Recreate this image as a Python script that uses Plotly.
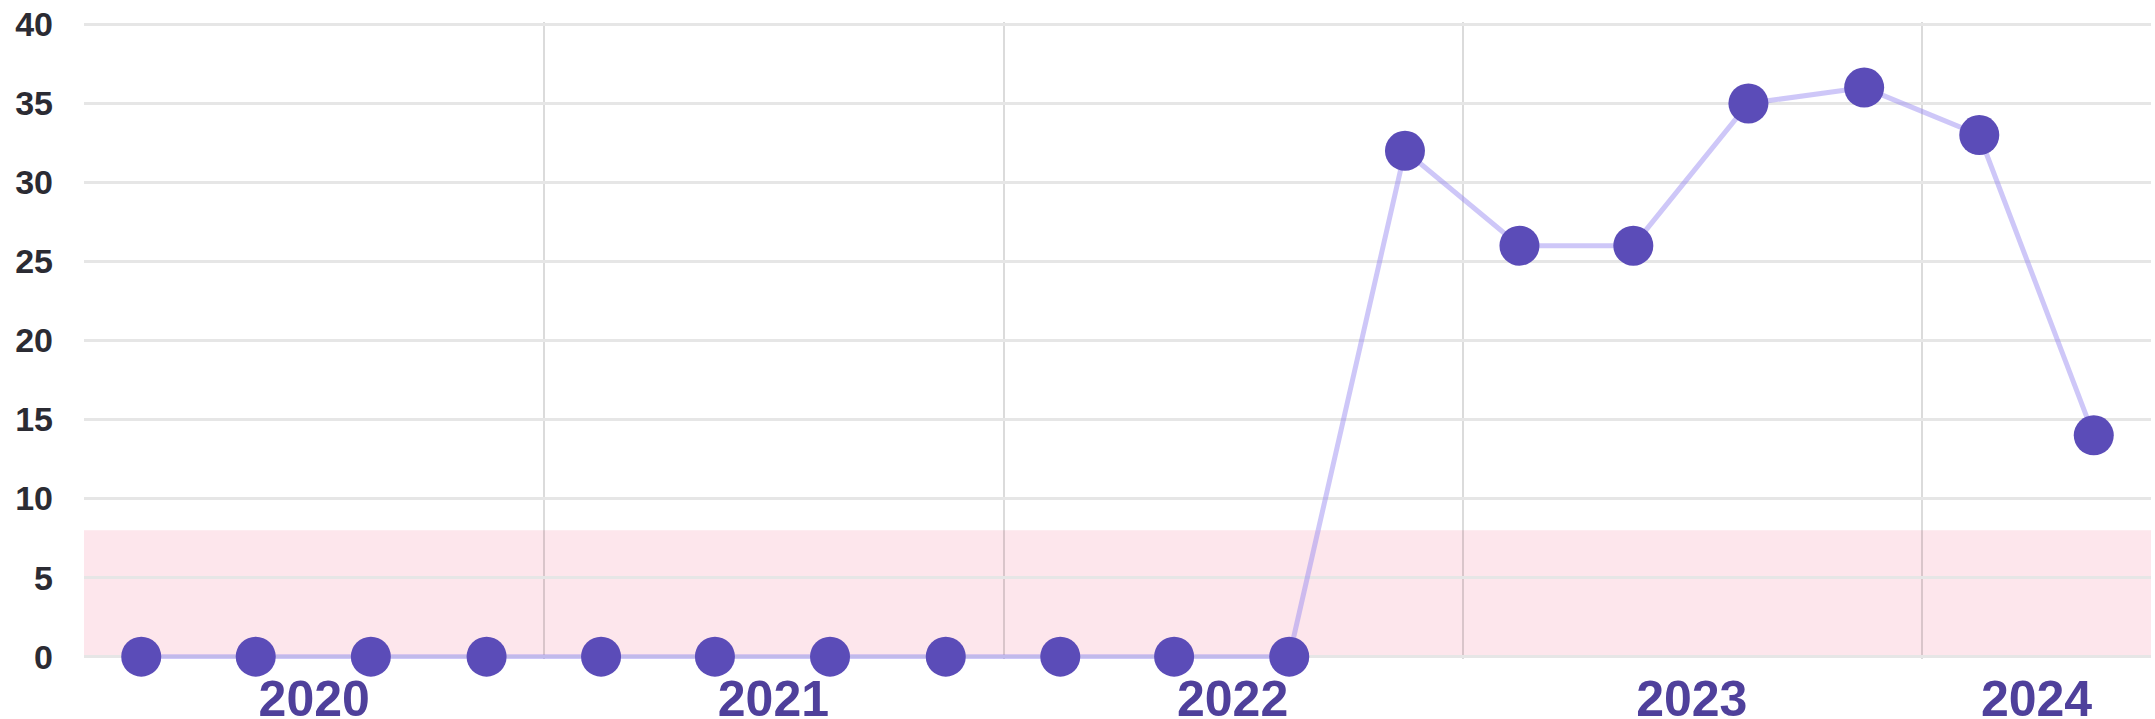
import plotly.graph_objects as go

# Quarterly data (quarter start dates; points drawn at mid-quarter)
quarters = [
    "2020-01-01", "2020-04-01", "2020-07-01", "2020-10-01",
    "2021-01-01", "2021-04-01", "2021-07-01", "2021-10-01",
    "2022-01-01", "2022-04-01", "2022-07-01", "2022-10-01",
    "2023-01-01", "2023-04-01", "2023-07-01", "2023-10-01",
    "2024-01-01", "2024-04-01",
]
values = [0, 0, 0, 0, 0, 0, 0, 0, 0, 0, 0, 32, 26, 26, 35, 36, 33, 14]

# Year labels, centred on the visible part of each year
year_label_pos = ["2020-07-02", "2021-07-02", "2022-07-02", "2023-07-02", "2024-04-01"]
year_labels = ["2020", "2021", "2022", "2023", "2024"]

x_range = ["2020-01-01", "2024-07-01"]
y_range = [-0.15, 40.15]
band = [0, 8]

fig = go.Figure()
fig.add_trace(go.Scatter(
    x=quarters, y=values,
    xperiod="M3", xperiodalignment="middle",
    mode="lines+markers",
    line=dict(color="rgba(150,135,240,0.47)", width=5),
    marker=dict(color="#5b4cb8", size=40),
    cliponaxis=False,
    showlegend=False,
))

fig.add_shape(type="rect", xref="paper", yref="y", x0=0, x1=1,
              y0=band[0], y1=band[1], fillcolor="rgba(240,80,120,0.14)",
              line=dict(width=0), layer="between")

fig.update_layout(
    width=2155, height=719,
    margin=dict(l=84, r=4, t=22, b=60),
    plot_bgcolor="white", paper_bgcolor="white",
    xaxis=dict(
        type="date", range=x_range, automargin=False,
        tickmode="array", tickvals=year_label_pos, ticktext=year_labels,
        showgrid=False, zeroline=False, showline=False, ticks="",
        ticklabelstandoff=6,
        minor=dict(dtick="M12", tick0="2020-01-01", showgrid=True,
                   gridcolor="rgba(0,0,0,0.14)", gridwidth=1.5, ticks=""),
        tickfont=dict(family="Liberation Sans, Arial", size=50, color="#4f409b", weight="bold"),
    ),
    yaxis=dict(
        range=y_range, automargin=False,
        tickmode="array", tickvals=[0, 5, 10, 15, 20, 25, 30, 35, 40],
        showgrid=True, gridcolor="#e6e6e6", gridwidth=2.5,
        zeroline=False, showline=False, ticks="",
        ticklabelstandoff=30,
        tickfont=dict(family="Liberation Sans, Arial", size=34, color="#2b2b33", weight="bold"),
    ),
)

fig.write_html("out.html", config={"displayModeBar": False},
               post_script="document.body.style.margin='0';")
